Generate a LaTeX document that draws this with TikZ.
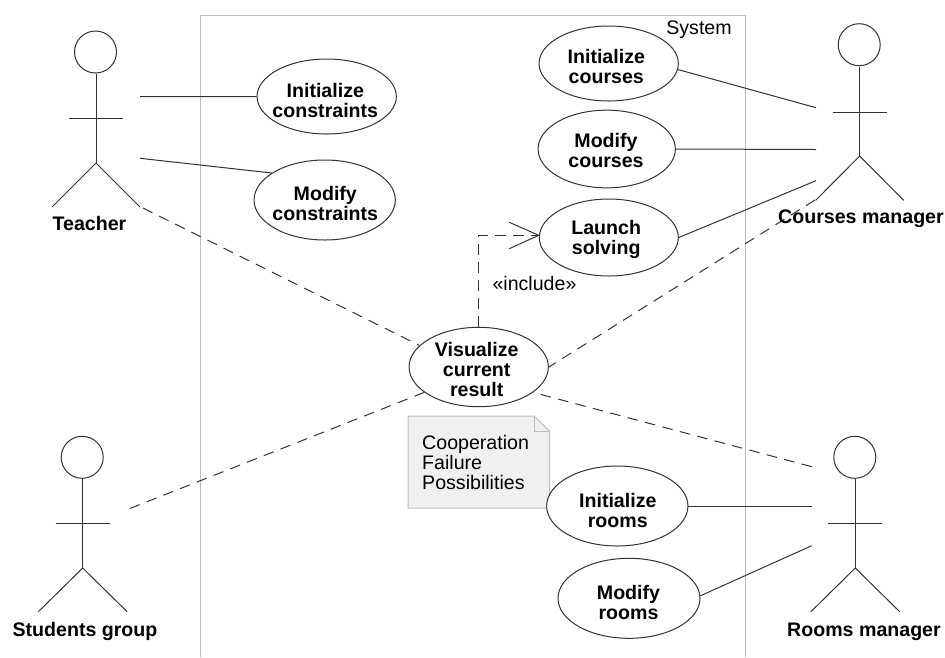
\documentclass[tikz,border=0pt]{standalone}
\usepackage{fontspec}
\setmainfont{Liberation Sans}
\usetikzlibrary{shapes.geometric}
\definecolor{frame}{gray}{0.75}
\definecolor{notefill}{gray}{0.94}
\definecolor{ink}{gray}{0.2}
\tikzset{
  x=1pt,y=-1pt,
  usecase/.style={draw=ink,line width=1pt,fill=white,shape=ellipse,inner sep=0pt},
  uctext/.style={inner sep=0pt,align=center,font=\fontsize{19.6}{20}\selectfont\bfseries},
  head/.style={draw=ink,line width=1pt,circle,minimum size=42pt,inner sep=0pt},
  limb/.style={draw=ink,line width=1pt},
  assoc/.style={draw=ink,line width=1pt},
  dep/.style={draw=ink,line width=1pt,dash pattern=on 10.5pt off 7.5pt},
  actorname/.style={font=\fontsize{19.6}{20}\selectfont\bfseries,inner sep=0pt,anchor=base},
  plain/.style={font=\fontsize{19.6}{20}\selectfont,inner sep=0pt,align=left},
}
\newcommand{\stick}[9]{%
  % name, body x, head y, neck y, arm y, arm half, hip y, foot y, foot half
  \node[head] (#1h) at (#2-0.5,#3) {};
  \coordinate (#1n) at (#2,#4);
  \coordinate (#1hip) at (#2,#7);
  \coordinate (#1al) at (#2-#6,#5);
  \coordinate (#1ar) at (#2+#6,#5);
  \coordinate (#1fl) at (#2-#9,#8);
  \coordinate (#1fr) at (#2+#9,#8);
  \draw[limb] (#1n) -- (#1hip);
  \draw[limb] (#1al) -- (#1ar);
  \draw[limb] (#1fl) -- (#1hip) -- (#1fr);
}
\begin{document}
\begin{tikzpicture}
\useasboundingbox (0,0) rectangle (945,657);
\path[draw=frame,line width=1pt] (200,657) -- (200,15.3) -- (745.5,15.3) -- (745.5,657);
\node[plain,anchor=base] (sys) at (699,34.3) {System};
% actors
\stick{t}{96}{52}{74}{118.7}{27}{163}{207}{44}
\stick{s}{82.7}{457.3}{479}{523.7}{27}{568}{611.7}{44.4}
\stick{c}{859.7}{44.7}{67}{112}{27}{156}{200.3}{44}
\stick{r}{855.3}{457.3}{479}{523.7}{27}{568}{611.7}{44.4}
% free connector ends
\coordinate (t1) at (140,96.7);
\coordinate (t2) at (140,158.3);
\coordinate (t3) at (143,208);
\coordinate (s1) at (126,510);
\coordinate (c1) at (816,107.7);
\coordinate (c2) at (816,149.5);
\coordinate (c3) at (816,180.7);
\coordinate (c4) at (815,200);
\coordinate (r1) at (811.7,466.7);
\coordinate (r2) at (811.7,506);
\coordinate (r3) at (811.7,545.7);
\coordinate (bend) at (478.7,235.3);
\coordinate (tip) at (538.7,235.3);
\coordinate (wa) at (509.3,222.3);
\coordinate (wb) at (509.3,248.7);
% note
\path[draw=frame,fill=notefill,line width=1pt] (408,416) -- (534,416) -- (549.5,431) -- (549.5,508) -- (408,508) -- cycle;
\path[draw=frame,line width=1pt] (534,416) -- (534,431) -- (549.5,431);
\node[plain,anchor=north west] (note) at (422,435.5) {Cooperation\\Failure\\Possibilities};
% use cases
\node[usecase,minimum width=139.3pt,minimum height=75pt] (ic) at (326.7,96.5) {};
\node[usecase,minimum width=141.3pt,minimum height=80pt] (mc) at (324.7,200) {};
\node[usecase,minimum width=139.3pt,minimum height=75pt] (ico) at (608.7,63.5) {};
\node[usecase,minimum width=137.3pt,minimum height=77.7pt] (mco) at (606.7,149) {};
\node[usecase,minimum width=139pt,minimum height=77pt] (ls) at (608.8,237.5) {};
\node[usecase,minimum width=139.3pt,minimum height=79.4pt] (vc) at (478.7,367) {};
\node[usecase,minimum width=141.3pt,minimum height=80pt] (ir) at (617.3,506) {};
\node[usecase,minimum width=142pt,minimum height=80pt] (mr) at (629,598.3) {};
\node[uctext] (ict) at (325.3,100.2) {Initialize\\constraints};
\node[uctext] (mct) at (325.3,203.6) {Modify\\constraints};
\node[uctext] (icot) at (606.3,66.6) {Initialize\\courses};
\node[uctext] (mcot) at (606,150) {Modify\\courses};
\node[uctext] (lst) at (606.2,239) {Launch\\solving};
\node[uctext] (vct) at (476.7,369) {Visualize\\current\\result};
\node[uctext] (irt) at (617.8,510) {Initialize\\rooms};
\node[uctext] (mrt) at (628.5,602) {Modify\\rooms};
\node[plain,anchor=base] (inc) at (534.5,290) {«include»};
% connectors
\draw[assoc] (t1) -- (ic.west);
\draw[assoc] (t2) -- (mc.153);
\draw[assoc] (ico.-5) -- (c1);
\draw[assoc] (mco.east) -- (c2);
\draw[assoc] (ls.east) -- (c3);
\draw[assoc] (ir.east) -- (r2);
\draw[assoc] (mr.2) -- (r3);
\draw[dep] (t3) -- (vc.160);
\draw[dep] (vc.205) -- (s1);
\draw[dep] (c4) -- (vc.east);
\draw[dep] (r1) -- (vc.-25);
\draw[dep] (vc.north) -- (bend) -- (tip);
\draw[assoc] (wa) -- (tip) -- (wb);
% actor names
\node[actorname] (tn) at (89.5,230.7) {Teacher};
\node[actorname] (sn) at (85,636) {Students group};
\node[actorname] (cn) at (861,223.3) {Courses manager};
\node[actorname] (rn) at (864,636) {Rooms manager};
\end{tikzpicture}
\end{document}
